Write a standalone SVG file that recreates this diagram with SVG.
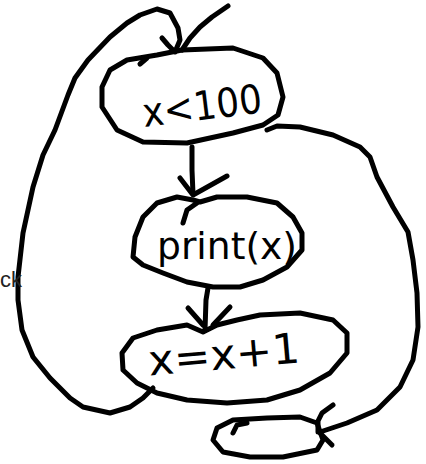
<svg xmlns="http://www.w3.org/2000/svg" width="426" height="464" viewBox="0 0 426 464">
<style>
.s{fill:none;stroke:#000;stroke-width:5;stroke-linecap:round;stroke-linejoin:round}
.t{font-family:"DejaVu Sans","Liberation Sans",sans-serif;fill:#000}
</style>
<rect width="426" height="464" fill="#fff"/>
<g id="connectors">
<polyline class="s" points="228,6 212,17 200,27 190,38 182,50"/>
<polyline class="s" points="153,388 143,398 130,407 110,413 83,407 70,398 50,378 33,357 22,330 18,300 18,277 23,233 33,187 43,155 55,130 68,95 75,78 88,60 110,37 127,23 140,15 157,9 170,13 178,28 180,40 175,52"/>
<polyline class="s" points="162,38 168,45 173,50"/>
<polyline class="s" points="267,130 277,126 300,127 333,135 360,147 370,157 377,177 393,207 408,232 413,260 417,293 418,327 413,360 400,387 377,410 347,423 320,432"/>
<polyline class="s" points="333,405 322,413 318,421 318,432"/>
<polyline class="s" points="332,445 326,439 320,433"/>
<polyline class="s" points="192,147 192,170 193,194"/>
<polyline class="s" points="180,178 193,195 227,176"/>
<polyline class="s" points="208,288 206,300 205,330"/>
<polyline class="s" points="188,308 203,325"/>
<polyline class="s" points="230,307 213,325"/>
</g>
<g id="cond">
<polyline class="s" points="182,50 233,48 263,58 277,73 283,97 278,115 263,125 233,133 187,143 143,142 117,130 102,107 102,87 110,70 127,60 157,55 182,50"/>
<polyline class="s" points="140,64 147,58"/>
<text class="t" x="142" y="120" font-size="40" textLength="120" lengthAdjust="spacingAndGlyphs" transform="rotate(-7 200 105)">x&lt;100</text>
</g>
<g id="print">
<polyline class="s" points="193,200 177,197 157,203 143,217 135,237 133,257 143,265 163,273 187,282 213,287 240,287 263,280 287,267 302,250 302,233 293,217 277,203 247,197 217,197 200,202 193,200"/>
<polyline class="s" points="197,203 187,210 183,223"/>
<text class="t" x="157" y="259" font-size="38" textLength="140" lengthAdjust="spacingAndGlyphs">print(x)</text>
</g>
<g id="incr">
<polyline class="s" points="203,332 187,325 157,330 133,338 122,353 123,370 137,383 157,393 187,400 227,403 267,400 300,390 330,373 347,353 347,333 333,320 300,313 260,315 237,320 217,325 203,332"/>
<text class="t" x="148" y="369" font-size="42" textLength="152" lengthAdjust="spacingAndGlyphs" transform="rotate(-5 224 355)">x=x+1</text>
</g>
<g id="end">
<polyline class="s" points="233,420 267,418 300,417 317,423 323,440 317,450 283,457 250,457 223,452 213,440 217,428 233,420"/>
<polyline class="s" points="233,433 237,425 247,423"/>
</g>
<text x="0" y="287" font-size="22" font-family="Liberation Sans, sans-serif" fill="#222">ck</text>
</svg>
